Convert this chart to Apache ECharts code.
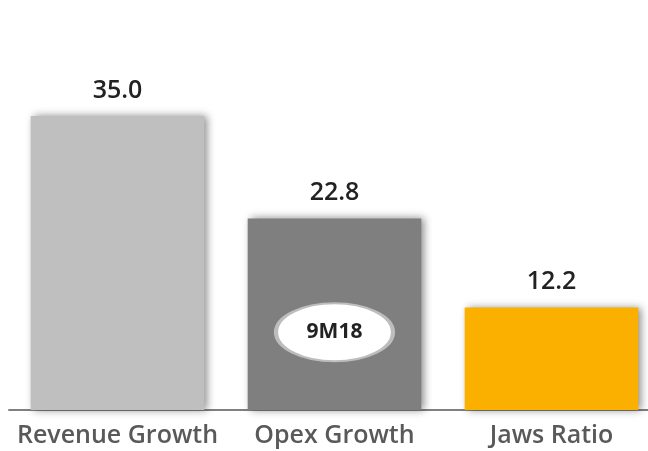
<!DOCTYPE html>
<html>
<head>
<meta charset="utf-8">
<script src="https://cdn.jsdelivr.net/npm/echarts@6/dist/echarts.min.js"></script>
<style>
  html, body { margin: 0; padding: 0; background: #ffffff; }
  #chart { width: 648px; height: 451px; }
</style>
</head>
<body>
<div id="chart"></div>
<script>
// Growth metrics for the period
const categories = ['Revenue Growth', 'Opex Growth', 'Jaws Ratio'];
const values = [35.0, 22.8, 12.2];
const barColors = ['#bfbfbf', '#7f7f7f', '#fbb000'];

// Period badge drawn inside the Opex bar
const periodLabel = '9M18';
const periodCategory = 'Opex Growth';
const periodValue = 9.25;

const chart = echarts.init(document.getElementById('chart'), null, { renderer: 'canvas' });

const FONT = '"Open Sans", "Noto Sans", sans-serif';

chart.setOption({
  animation: false,
  backgroundColor: '#ffffff',
  grid: {
    left: 9, right: -12, top: 74, bottom: 41,
    outerBoundsMode: 'none',
    containLabel: false
  },
  xAxis: {
    type: 'category',
    data: categories,
    axisLine: { show: true, lineStyle: { color: '#808080', width: 2 } },
    axisTick: { show: false },
    axisLabel: {
      interval: 0,
      color: '#595959',
      fontFamily: FONT,
      fontSize: 25,
      fontWeight: 600,
      margin: 13
    }
  },
  yAxis: {
    type: 'value',
    min: 0,
    max: 40,
    show: false,
    splitLine: { show: false }
  },
  series: [{
    type: 'bar',
    barWidth: '80%',
    data: values.map((v, i) => ({
      value: v,
      itemStyle: { color: barColors[i] }
    })),
    itemStyle: {
      shadowColor: 'rgba(0,0,0,0.45)',
      shadowBlur: 8,
      shadowOffsetX: 3,
      shadowOffsetY: 0
    },
    label: {
      show: true,
      position: 'top',
      distance: 13,
      color: '#222222',
      fontFamily: FONT,
      fontSize: 25,
      fontWeight: 600,
      formatter: p => p.value.toFixed(1)
    },
    markPoint: {
      symbol: 'circle',
      symbolSize: [117, 58],
      itemStyle: {
        color: '#ffffff',
        borderColor: '#bdbdbd',
        borderWidth: 3
      },
      label: {
        show: true,
        position: 'inside',
        color: '#222222',
        fontFamily: FONT,
        fontSize: 21,
        fontWeight: 'bold',
        formatter: periodLabel
      },
      data: [{ coord: [periodCategory, periodValue], value: periodLabel }]
    }
  }]
});
</script>
</body>
</html>
